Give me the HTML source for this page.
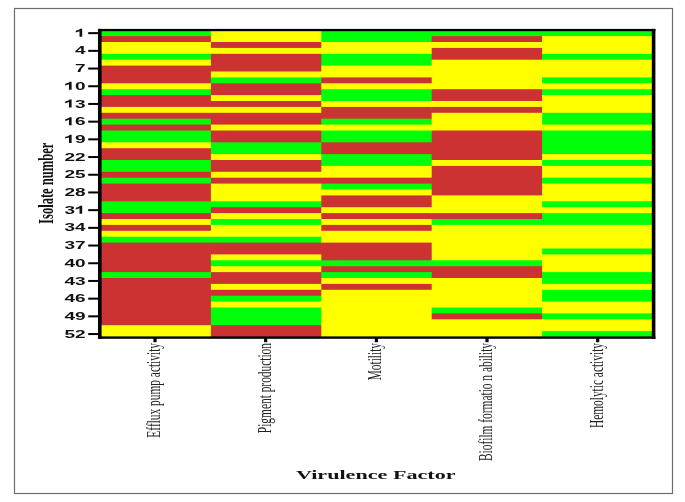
<!DOCTYPE html>
<html><head><meta charset="utf-8"><style>
html,body{margin:0;padding:0;background:#fff;width:685px;height:502px;overflow:hidden}
svg{position:absolute;left:0;top:0;filter:blur(0.45px)}
.yl{font-family:"Liberation Sans",sans-serif;font-weight:bold;font-size:11.3px;fill:#111}
.xl{font-family:"Liberation Serif",serif;font-size:11.4px;fill:#222}
.t{font-family:"Liberation Serif",serif;font-weight:bold;fill:#111}
</style></head><body>
<svg width="685" height="502" viewBox="0 0 685 502">
<rect x="14.5" y="8.5" width="658" height="485" fill="none" stroke="#6e6e6e" stroke-width="1.2"/>
<rect x="100.50" y="30.20" width="111.20" height="6.70" fill="#00fe08"/><rect x="100.50" y="36.10" width="111.20" height="6.70" fill="#cd3232"/><rect x="100.50" y="42.00" width="111.20" height="12.60" fill="#ffff00"/><rect x="100.50" y="53.80" width="111.20" height="6.70" fill="#00fe08"/><rect x="100.50" y="59.70" width="111.20" height="6.70" fill="#ffff00"/><rect x="100.50" y="65.60" width="111.20" height="18.50" fill="#cd3232"/><rect x="100.50" y="83.30" width="111.20" height="6.70" fill="#ffff00"/><rect x="100.50" y="89.20" width="111.20" height="6.70" fill="#00fe08"/><rect x="100.50" y="95.10" width="111.20" height="12.60" fill="#cd3232"/><rect x="100.50" y="106.90" width="111.20" height="6.70" fill="#ffff00"/><rect x="100.50" y="112.80" width="111.20" height="6.70" fill="#cd3232"/><rect x="100.50" y="118.70" width="111.20" height="6.70" fill="#00fe08"/><rect x="100.50" y="124.60" width="111.20" height="6.70" fill="#cd3232"/><rect x="100.50" y="130.50" width="111.20" height="12.60" fill="#00fe08"/><rect x="100.50" y="142.30" width="111.20" height="6.70" fill="#ffff00"/><rect x="100.50" y="148.20" width="111.20" height="12.60" fill="#cd3232"/><rect x="100.50" y="160.00" width="111.20" height="12.60" fill="#00fe08"/><rect x="100.50" y="171.80" width="111.20" height="6.70" fill="#cd3232"/><rect x="100.50" y="177.70" width="111.20" height="6.70" fill="#00fe08"/><rect x="100.50" y="183.60" width="111.20" height="18.50" fill="#cd3232"/><rect x="100.50" y="201.30" width="111.20" height="12.60" fill="#00fe08"/><rect x="100.50" y="213.10" width="111.20" height="6.70" fill="#cd3232"/><rect x="100.50" y="219.00" width="111.20" height="6.70" fill="#ffff00"/><rect x="100.50" y="224.90" width="111.20" height="6.70" fill="#cd3232"/><rect x="100.50" y="230.80" width="111.20" height="6.70" fill="#ffff00"/><rect x="100.50" y="236.70" width="111.20" height="6.70" fill="#00fe08"/><rect x="100.50" y="242.60" width="111.20" height="30.30" fill="#cd3232"/><rect x="100.50" y="272.10" width="111.20" height="6.70" fill="#00fe08"/><rect x="100.50" y="278.00" width="111.20" height="48.00" fill="#cd3232"/><rect x="100.50" y="325.20" width="111.20" height="11.80" fill="#ffff00"/><rect x="210.90" y="30.20" width="111.20" height="12.60" fill="#ffff00"/><rect x="210.90" y="42.00" width="111.20" height="6.70" fill="#cd3232"/><rect x="210.90" y="47.90" width="111.20" height="6.70" fill="#ffff00"/><rect x="210.90" y="53.80" width="111.20" height="18.50" fill="#cd3232"/><rect x="210.90" y="71.50" width="111.20" height="6.70" fill="#ffff00"/><rect x="210.90" y="77.40" width="111.20" height="6.70" fill="#00fe08"/><rect x="210.90" y="83.30" width="111.20" height="12.60" fill="#cd3232"/><rect x="210.90" y="95.10" width="111.20" height="6.70" fill="#ffff00"/><rect x="210.90" y="101.00" width="111.20" height="6.70" fill="#cd3232"/><rect x="210.90" y="106.90" width="111.20" height="6.70" fill="#ffff00"/><rect x="210.90" y="112.80" width="111.20" height="12.60" fill="#cd3232"/><rect x="210.90" y="124.60" width="111.20" height="6.70" fill="#ffff00"/><rect x="210.90" y="130.50" width="111.20" height="12.60" fill="#cd3232"/><rect x="210.90" y="142.30" width="111.20" height="12.60" fill="#00fe08"/><rect x="210.90" y="154.10" width="111.20" height="6.70" fill="#ffff00"/><rect x="210.90" y="160.00" width="111.20" height="12.60" fill="#cd3232"/><rect x="210.90" y="171.80" width="111.20" height="6.70" fill="#ffff00"/><rect x="210.90" y="177.70" width="111.20" height="6.70" fill="#cd3232"/><rect x="210.90" y="183.60" width="111.20" height="18.50" fill="#ffff00"/><rect x="210.90" y="201.30" width="111.20" height="6.70" fill="#00fe08"/><rect x="210.90" y="207.20" width="111.20" height="6.70" fill="#cd3232"/><rect x="210.90" y="213.10" width="111.20" height="6.70" fill="#ffff00"/><rect x="210.90" y="219.00" width="111.20" height="6.70" fill="#00fe08"/><rect x="210.90" y="224.90" width="111.20" height="12.60" fill="#ffff00"/><rect x="210.90" y="236.70" width="111.20" height="6.70" fill="#00fe08"/><rect x="210.90" y="242.60" width="111.20" height="12.60" fill="#cd3232"/><rect x="210.90" y="254.40" width="111.20" height="6.70" fill="#ffff00"/><rect x="210.90" y="260.30" width="111.20" height="6.70" fill="#00fe08"/><rect x="210.90" y="266.20" width="111.20" height="6.70" fill="#ffff00"/><rect x="210.90" y="272.10" width="111.20" height="12.60" fill="#cd3232"/><rect x="210.90" y="283.90" width="111.20" height="6.70" fill="#ffff00"/><rect x="210.90" y="289.80" width="111.20" height="6.70" fill="#cd3232"/><rect x="210.90" y="295.70" width="111.20" height="6.70" fill="#00fe08"/><rect x="210.90" y="301.60" width="111.20" height="6.70" fill="#ffff00"/><rect x="210.90" y="307.50" width="111.20" height="18.50" fill="#00fe08"/><rect x="210.90" y="325.20" width="111.20" height="11.80" fill="#cd3232"/><rect x="321.30" y="30.20" width="111.20" height="12.60" fill="#00fe08"/><rect x="321.30" y="42.00" width="111.20" height="12.60" fill="#ffff00"/><rect x="321.30" y="53.80" width="111.20" height="12.60" fill="#00fe08"/><rect x="321.30" y="65.60" width="111.20" height="12.60" fill="#ffff00"/><rect x="321.30" y="77.40" width="111.20" height="6.70" fill="#cd3232"/><rect x="321.30" y="83.30" width="111.20" height="6.70" fill="#ffff00"/><rect x="321.30" y="89.20" width="111.20" height="12.60" fill="#00fe08"/><rect x="321.30" y="101.00" width="111.20" height="6.70" fill="#ffff00"/><rect x="321.30" y="106.90" width="111.20" height="12.60" fill="#cd3232"/><rect x="321.30" y="118.70" width="111.20" height="6.70" fill="#00fe08"/><rect x="321.30" y="124.60" width="111.20" height="6.70" fill="#ffff00"/><rect x="321.30" y="130.50" width="111.20" height="12.60" fill="#00fe08"/><rect x="321.30" y="142.30" width="111.20" height="12.60" fill="#cd3232"/><rect x="321.30" y="154.10" width="111.20" height="12.60" fill="#00fe08"/><rect x="321.30" y="165.90" width="111.20" height="12.60" fill="#ffff00"/><rect x="321.30" y="177.70" width="111.20" height="6.70" fill="#cd3232"/><rect x="321.30" y="183.60" width="111.20" height="6.70" fill="#00fe08"/><rect x="321.30" y="189.50" width="111.20" height="6.70" fill="#ffff00"/><rect x="321.30" y="195.40" width="111.20" height="12.60" fill="#cd3232"/><rect x="321.30" y="207.20" width="111.20" height="6.70" fill="#ffff00"/><rect x="321.30" y="213.10" width="111.20" height="6.70" fill="#cd3232"/><rect x="321.30" y="219.00" width="111.20" height="6.70" fill="#ffff00"/><rect x="321.30" y="224.90" width="111.20" height="6.70" fill="#cd3232"/><rect x="321.30" y="230.80" width="111.20" height="12.60" fill="#ffff00"/><rect x="321.30" y="242.60" width="111.20" height="18.50" fill="#cd3232"/><rect x="321.30" y="260.30" width="111.20" height="6.70" fill="#00fe08"/><rect x="321.30" y="266.20" width="111.20" height="6.70" fill="#cd3232"/><rect x="321.30" y="272.10" width="111.20" height="6.70" fill="#00fe08"/><rect x="321.30" y="278.00" width="111.20" height="6.70" fill="#ffff00"/><rect x="321.30" y="283.90" width="111.20" height="6.70" fill="#cd3232"/><rect x="321.30" y="289.80" width="111.20" height="47.20" fill="#ffff00"/><rect x="431.70" y="30.20" width="111.20" height="6.70" fill="#00fe08"/><rect x="431.70" y="36.10" width="111.20" height="6.70" fill="#cd3232"/><rect x="431.70" y="42.00" width="111.20" height="6.70" fill="#ffff00"/><rect x="431.70" y="47.90" width="111.20" height="12.60" fill="#cd3232"/><rect x="431.70" y="59.70" width="111.20" height="30.30" fill="#ffff00"/><rect x="431.70" y="89.20" width="111.20" height="12.60" fill="#cd3232"/><rect x="431.70" y="101.00" width="111.20" height="6.70" fill="#ffff00"/><rect x="431.70" y="106.90" width="111.20" height="6.70" fill="#cd3232"/><rect x="431.70" y="112.80" width="111.20" height="18.50" fill="#ffff00"/><rect x="431.70" y="130.50" width="111.20" height="30.30" fill="#cd3232"/><rect x="431.70" y="160.00" width="111.20" height="6.70" fill="#ffff00"/><rect x="431.70" y="165.90" width="111.20" height="30.30" fill="#cd3232"/><rect x="431.70" y="195.40" width="111.20" height="18.50" fill="#ffff00"/><rect x="431.70" y="213.10" width="111.20" height="6.70" fill="#cd3232"/><rect x="431.70" y="219.00" width="111.20" height="6.70" fill="#00fe08"/><rect x="431.70" y="224.90" width="111.20" height="36.20" fill="#ffff00"/><rect x="431.70" y="260.30" width="111.20" height="6.70" fill="#00fe08"/><rect x="431.70" y="266.20" width="111.20" height="12.60" fill="#cd3232"/><rect x="431.70" y="278.00" width="111.20" height="30.30" fill="#ffff00"/><rect x="431.70" y="307.50" width="111.20" height="6.70" fill="#00fe08"/><rect x="431.70" y="313.40" width="111.20" height="6.70" fill="#cd3232"/><rect x="431.70" y="319.30" width="111.20" height="17.70" fill="#ffff00"/><rect x="542.10" y="30.20" width="110.40" height="6.70" fill="#00fe08"/><rect x="542.10" y="36.10" width="110.40" height="18.50" fill="#ffff00"/><rect x="542.10" y="53.80" width="110.40" height="6.70" fill="#00fe08"/><rect x="542.10" y="59.70" width="110.40" height="18.50" fill="#ffff00"/><rect x="542.10" y="77.40" width="110.40" height="6.70" fill="#00fe08"/><rect x="542.10" y="83.30" width="110.40" height="6.70" fill="#ffff00"/><rect x="542.10" y="89.20" width="110.40" height="6.70" fill="#00fe08"/><rect x="542.10" y="95.10" width="110.40" height="18.50" fill="#ffff00"/><rect x="542.10" y="112.80" width="110.40" height="12.60" fill="#00fe08"/><rect x="542.10" y="124.60" width="110.40" height="6.70" fill="#ffff00"/><rect x="542.10" y="130.50" width="110.40" height="24.40" fill="#00fe08"/><rect x="542.10" y="154.10" width="110.40" height="6.70" fill="#ffff00"/><rect x="542.10" y="160.00" width="110.40" height="6.70" fill="#00fe08"/><rect x="542.10" y="165.90" width="110.40" height="12.60" fill="#ffff00"/><rect x="542.10" y="177.70" width="110.40" height="6.70" fill="#00fe08"/><rect x="542.10" y="183.60" width="110.40" height="18.50" fill="#ffff00"/><rect x="542.10" y="201.30" width="110.40" height="6.70" fill="#00fe08"/><rect x="542.10" y="207.20" width="110.40" height="6.70" fill="#ffff00"/><rect x="542.10" y="213.10" width="110.40" height="12.60" fill="#00fe08"/><rect x="542.10" y="224.90" width="110.40" height="24.40" fill="#ffff00"/><rect x="542.10" y="248.50" width="110.40" height="6.70" fill="#00fe08"/><rect x="542.10" y="254.40" width="110.40" height="18.50" fill="#ffff00"/><rect x="542.10" y="272.10" width="110.40" height="12.60" fill="#00fe08"/><rect x="542.10" y="283.90" width="110.40" height="6.70" fill="#ffff00"/><rect x="542.10" y="289.80" width="110.40" height="12.60" fill="#00fe08"/><rect x="542.10" y="301.60" width="110.40" height="12.60" fill="#ffff00"/><rect x="542.10" y="313.40" width="110.40" height="6.70" fill="#00fe08"/><rect x="542.10" y="319.30" width="110.40" height="12.60" fill="#ffff00"/><rect x="542.10" y="331.10" width="110.40" height="5.90" fill="#00fe08"/>
<rect x="98" y="28.9" width="557.4" height="2.3" fill="#000"/>
<rect x="98" y="336.4" width="557.4" height="2.4" fill="#000"/>
<rect x="98" y="28.9" width="3.6" height="309.9" fill="#000"/>
<rect x="651.8" y="28.9" width="3.6" height="309.9" fill="#000"/>
<rect x="88.2" y="32.15" width="10.2" height="2" fill="#000"/><polygon points="82.19,36.75 82.19,28.66 80.16,28.66 79.68,29.18 78.83,29.69 77.49,30.20 75.78,30.65 75.78,32.40 77.49,31.91 79.53,31.19 79.53,36.75" fill="#111"/><rect x="88.2" y="49.85" width="10.2" height="2" fill="#000"/><text transform="translate(75.02 54.45) scale(1.684 1)" class="yl">4</text><rect x="88.2" y="67.55" width="10.2" height="2" fill="#000"/><text transform="translate(75.02 72.15) scale(1.684 1)" class="yl">7</text><rect x="88.2" y="85.25" width="10.2" height="2" fill="#000"/><polygon points="71.61,89.85 71.61,81.76 69.58,81.76 69.10,82.28 68.25,82.79 66.91,83.30 65.20,83.75 65.20,85.50 66.91,85.01 68.95,84.29 68.95,89.85" fill="#111"/><text transform="translate(75.02 89.85) scale(1.684 1)" class="yl">0</text><rect x="88.2" y="102.95" width="10.2" height="2" fill="#000"/><polygon points="71.61,107.55 71.61,99.46 69.58,99.46 69.10,99.98 68.25,100.49 66.91,101.00 65.20,101.45 65.20,103.20 66.91,102.71 68.95,101.99 68.95,107.55" fill="#111"/><text transform="translate(75.02 107.55) scale(1.684 1)" class="yl">3</text><rect x="88.2" y="120.65" width="10.2" height="2" fill="#000"/><polygon points="71.61,125.25 71.61,117.16 69.58,117.16 69.10,117.68 68.25,118.19 66.91,118.70 65.20,119.15 65.20,120.90 66.91,120.41 68.95,119.69 68.95,125.25" fill="#111"/><text transform="translate(75.02 125.25) scale(1.684 1)" class="yl">6</text><rect x="88.2" y="138.35" width="10.2" height="2" fill="#000"/><polygon points="71.61,142.95 71.61,134.86 69.58,134.86 69.10,135.38 68.25,135.89 66.91,136.40 65.20,136.85 65.20,138.60 66.91,138.11 68.95,137.39 68.95,142.95" fill="#111"/><text transform="translate(75.02 142.95) scale(1.684 1)" class="yl">9</text><rect x="88.2" y="156.05" width="10.2" height="2" fill="#000"/><text transform="translate(64.44 160.65) scale(1.684 1)" class="yl">2</text><text transform="translate(75.02 160.65) scale(1.684 1)" class="yl">2</text><rect x="88.2" y="173.75" width="10.2" height="2" fill="#000"/><text transform="translate(64.44 178.35) scale(1.684 1)" class="yl">2</text><text transform="translate(75.02 178.35) scale(1.684 1)" class="yl">5</text><rect x="88.2" y="191.45" width="10.2" height="2" fill="#000"/><text transform="translate(64.44 196.05) scale(1.684 1)" class="yl">2</text><text transform="translate(75.02 196.05) scale(1.684 1)" class="yl">8</text><rect x="88.2" y="209.15" width="10.2" height="2" fill="#000"/><text transform="translate(64.44 213.75) scale(1.684 1)" class="yl">3</text><polygon points="82.19,213.75 82.19,205.66 80.16,205.66 79.68,206.18 78.83,206.69 77.49,207.20 75.78,207.65 75.78,209.40 77.49,208.91 79.53,208.19 79.53,213.75" fill="#111"/><rect x="88.2" y="226.85" width="10.2" height="2" fill="#000"/><text transform="translate(64.44 231.45) scale(1.684 1)" class="yl">3</text><text transform="translate(75.02 231.45) scale(1.684 1)" class="yl">4</text><rect x="88.2" y="244.55" width="10.2" height="2" fill="#000"/><text transform="translate(64.44 249.15) scale(1.684 1)" class="yl">3</text><text transform="translate(75.02 249.15) scale(1.684 1)" class="yl">7</text><rect x="88.2" y="262.25" width="10.2" height="2" fill="#000"/><text transform="translate(64.44 266.85) scale(1.684 1)" class="yl">4</text><text transform="translate(75.02 266.85) scale(1.684 1)" class="yl">0</text><rect x="88.2" y="279.95" width="10.2" height="2" fill="#000"/><text transform="translate(64.44 284.55) scale(1.684 1)" class="yl">4</text><text transform="translate(75.02 284.55) scale(1.684 1)" class="yl">3</text><rect x="88.2" y="297.65" width="10.2" height="2" fill="#000"/><text transform="translate(64.44 302.25) scale(1.684 1)" class="yl">4</text><text transform="translate(75.02 302.25) scale(1.684 1)" class="yl">6</text><rect x="88.2" y="315.35" width="10.2" height="2" fill="#000"/><text transform="translate(64.44 319.95) scale(1.684 1)" class="yl">4</text><text transform="translate(75.02 319.95) scale(1.684 1)" class="yl">9</text><rect x="88.2" y="333.05" width="10.2" height="2" fill="#000"/><text transform="translate(64.44 337.65) scale(1.684 1)" class="yl">5</text><text transform="translate(75.02 337.65) scale(1.684 1)" class="yl">2</text>
<rect x="153.40" y="338" width="3.2" height="4.2" fill="#000"/><text transform="translate(160.10 343) scale(1.62 1) rotate(-90)" text-anchor="end" class="xl">Efflux pump activity</text><rect x="264.07" y="338" width="3.2" height="4.2" fill="#000"/><text transform="translate(270.77 343) scale(1.62 1) rotate(-90)" text-anchor="end" class="xl">Pigment production</text><rect x="374.74" y="338" width="3.2" height="4.2" fill="#000"/><text transform="translate(381.44 343) scale(1.62 1) rotate(-90)" text-anchor="end" class="xl">Motility</text><rect x="485.41" y="338" width="3.2" height="4.2" fill="#000"/><text transform="translate(492.11 343) scale(1.62 1) rotate(-90)" text-anchor="end" class="xl">Biofilm formatio n ability</text><rect x="596.08" y="338" width="3.2" height="4.2" fill="#000"/><text transform="translate(602.78 343) scale(1.62 1) rotate(-90)" text-anchor="end" class="xl">Hemolytic activity</text>
<text class="t" font-size="12.57" transform="translate(52.8 223.9) scale(1.6 1) rotate(-90)">Isolate number</text>
<text class="t" font-size="13.5" text-anchor="middle" transform="translate(375.8 479.0) scale(1.64 1)">Virulence Factor</text>
</svg>
</body></html>
